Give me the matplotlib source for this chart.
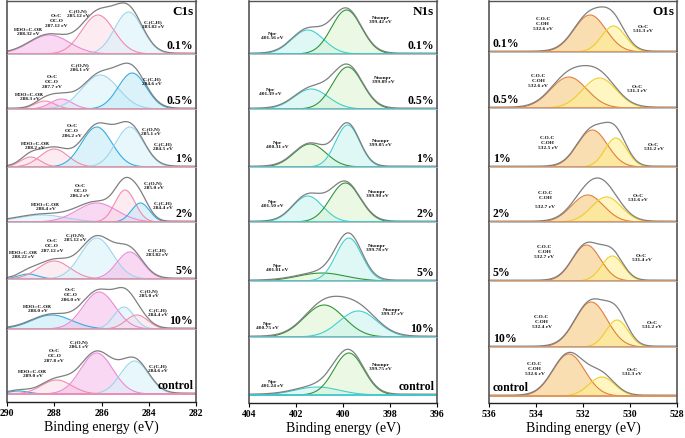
import numpy as np
import matplotlib.pyplot as plt

plt.rcParams['font.family'] = ['Liberation Serif', 'DejaVu Serif']
plt.rcParams['font.weight'] = 'bold'

#%% data (peak fits: centre eV, height a.u., fwhm eV)
samples = ['0.1%', '0.5%', '1%', '2%', '5%', '10%', 'control']

c1s_center = [[288.2, 286.15, 284.85],
              [288.4, 287.7, 286.05, 284.7],
              [289.0, 288.0, 286.2, 284.8],
              [288.5, 286.2, 285.0, 284.35],
              [289.1, 288.0, 286.2, 284.8],
              [288.1, 286.1, 285.05, 284.5],
              [289.5, 287.9, 286.2, 284.6]]
c1s_height = [[19, 39, 42],
              [8, 10, 34, 36],
              [10, 18, 40, 40],
              [7, 19, 32, 19],
              [5, 18, 41, 27],
              [14, 37, 22, 14],
              [3, 14, 41, 33]]
c1s_fwhm = [[2.0, 1.6, 1.4],
            [1.0, 1.1, 1.8, 1.4],
            [1.0, 1.4, 1.5, 1.4],
            [2.4, 2.0, 1.0, 0.9],
            [1.0, 1.6, 1.6, 1.3],
            [2.0, 1.6, 1.0, 1.1],
            [1.0, 1.5, 1.6, 1.4]]
c1s_text = [['HOO=C-OR\n288.32 eV', 'O=C\nOC-O\n287.12 eV', 'C-(O,N)\n285.12 eV', 'C-(C,H)\n283.82 eV'],
            ['HOO=C-OR\n288.3 eV', 'O=C\nOC-O\n287.7 eV', 'C-(O,N)\n286.1 eV', 'C-(C,H)\n284.6 eV'],
            ['HOO=C-OR\n288.2 eV', 'O=C\nOC-O\n286.2 eV', 'C-(O,N)\n285.1 eV', 'C-(C,H)\n284.5 eV'],
            ['HOO=C-OR\n288.4 eV', 'O=C\nOC-O\n286.2 eV', 'C-(O,N)\n285.0 eV', 'C-(C,H)\n284.4 eV'],
            ['HOO=C-OR\n288.22 eV', 'O=C\nOC-O\n287.12 eV', 'C-(O,N)\n285.12 eV', 'C-(C,H)\n283.82 eV'],
            ['HOO=C-OR\n288.0 eV', 'O=C\nOC-O\n286.0 eV', 'C-(O,N)\n285.0 eV', 'C-(C,H)\n284.4 eV'],
            ['HOO=C-OR\n289.0 eV', 'O=C\nOC-O\n287.8 eV', 'C-(O,N)\n286.1 eV', 'C-(C,H)\n284.6 eV']]

n1s_center = [[401.5, 399.85], [401.35, 399.8], [401.4, 399.8], [401.5, 399.9],
              [400.9, 399.75], [400.8, 399.35], [401.1, 399.75]]
n1s_height = [[24, 44], [20, 42], [23, 42], [26, 39], [8, 43], [32, 26], [8, 42]]
n1s_fwhm = [[1.6, 1.5], [1.7, 1.5], [1.6, 1.2], [1.5, 1.5], [2.4, 1.3], [2.0, 1.9], [2.2, 1.5]]
n1s_text = [['Npr\n401.56 eV', 'Nnonpr\n399.42 eV'],
            ['Npr\n401.39 eV', 'Nnonpr\n399.89 eV'],
            ['Npr\n400.31 eV', 'Nnonpr\n399.05 eV'],
            ['Npr\n401.50 eV', 'Nnonpr\n399.90 eV'],
            ['Npr\n401.81 eV', 'Nnonpr\n399.78 eV'],
            ['Npr\n400.75 eV', 'Nnonpr\n399.37 eV'],
            ['Npr\n401.24 eV', 'Nnonpr\n399.75 eV']]

o1s_center = [[531.7, 530.7], [532.6, 531.3], [531.6, 530.6], [531.8, 531.0],
              [531.85, 530.75], [531.65, 530.55], [532.6, 531.2]]
o1s_height = [[37, 26], [31, 30], [37, 29], [27, 25], [36, 25], [45, 27], [42, 19]]
o1s_fwhm = [[1.6, 1.2], [1.8, 1.7], [1.5, 1.1], [1.6, 1.5], [1.4, 1.1], [1.6, 1.1], [1.6, 1.3]]
o1s_text = [['C-O-C\nC-OH\n532.6 eV', 'O=C\n531.3 eV'],
            ['C-O-C\nC-OH\n532.6 eV', 'O=C\n531.3 eV'],
            ['C-O-C\nC-OH\n532.5 eV', 'O=C\n531.2 eV'],
            ['C-O-C\nC-OH\n\n532.7 eV', 'O=C\n531.6 eV'],
            ['C-O-C\nC-OH\n532.7 eV', 'O=C\n531.4 eV'],
            ['C-O-C\nC-OH\n532.4 eV', 'O=C\n531.2 eV'],
            ['C-O-C\nC-OH\n532.6 eV', 'O=C\n531.3 eV']]

#%% styles
col = {'pink': ('#f28bab', '#fcdbe8'), 'mag': ('#e98ad6', '#f3b8e8'),
       'lblue': ('#9dd6ea', '#d6f2fa'), 'blue': ('#35ace0', '#bfe9f7'),
       'cyan': ('#3fcfcf', '#c8f4ee'), 'green': ('#2e9636', '#dcf3cf'),
       'orange': ('#e07f3a', '#f5c474'), 'yellow': ('#efcd2a', '#fff08e')}

c1s_style = [['mag', 'pink', 'lblue'], ['pink', 'mag', 'lblue', 'blue'],
             ['pink', 'pink', 'blue', 'lblue'], ['lblue', 'mag', 'pink', 'blue'],
             ['blue', 'pink', 'lblue', 'mag'], ['blue', 'mag', 'lblue', 'pink'],
             ['blue', 'pink', 'mag', 'lblue']]
n1s_style = [['cyan', 'green'], ['cyan', 'green'], ['green', 'cyan'], ['cyan', 'green'],
             ['green', 'cyan'], ['green', 'cyan'], ['cyan', 'green']]
o1s_style = [['orange', 'yellow']] * 7

# label positions (eV, height above baseline)
c1s_pos = [[(289.1, 23), (287.9, 34), (287.0, 41), (283.8, 30)],
           [(289.05, 13), (288.1, 28), (286.9, 42), (283.85, 28)],
           [(288.8, 22), (287.25, 37), (283.9, 36), (283.4, 21)],
           [(288.35, 16), (286.9, 32), (283.8, 37), (283.4, 17)],
           [(289.3, 25), (288.1, 34), (287.1, 42), (283.65, 27)],
           [(288.7, 21), (287.3, 35), (284.0, 36), (283.6, 17)],
           [(288.9, 21), (288.0, 39), (286.95, 50), (283.6, 26)]]
n1s_pos = [[(403.0, 19), (398.4, 35)], [(403.1, 18), (398.3, 30)],
           [(402.8, 23), (398.4, 25)], [(403.0, 19), (398.55, 29)],
           [(402.8, 14), (398.55, 34)], [(403.2, 12), (397.9, 26)],
           [(403.0, 12), (398.4, 29)]]
o1s_pos = [[(533.7, 29), (529.45, 24)], [(533.9, 28), (529.7, 20)],
           [(533.5, 25), (529.0, 21)], [(533.6, 23), (529.65, 25)],
           [(533.65, 30), (529.5, 24)], [(533.75, 26), (529.05, 23)],
           [(534.05, 28), (529.9, 25)]]

W, H = 685, 439
columns = [
    dict(name='C1s', c=c1s_center, h=c1s_height, w=c1s_fwhm, txt=c1s_text, sty=c1s_style, pos=c1s_pos,
         left=7, right=196, xr=(290, 282), ticks=[290, 288, 286, 284, 282],
         bounds=[2, 55, 110, 168, 223, 280, 330, 403], base=395, line='#f08cb0', lab_right=True),
    dict(name='N1s', c=n1s_center, h=n1s_height, w=n1s_fwhm, txt=n1s_text, sty=n1s_style, pos=n1s_pos,
         left=249, right=437, xr=(404, 396), ticks=[404, 402, 400, 398, 396],
         bounds=[2, 55, 110, 168, 223, 282, 338, 404], base=396, line='#3fc8d0', lab_right=True),
    dict(name='O1s', c=o1s_center, h=o1s_height, w=o1s_fwhm, txt=o1s_text, sty=o1s_style, pos=o1s_pos,
         left=489, right=677, xr=(536, 528), ticks=[536, 534, 532, 530, 528],
         bounds=[2, 53, 109, 168, 223, 282, 348, 404], base=397, line='#e0905a', lab_right=False),
]


def gauss(x, c, h, w):
    return h * np.exp(-4 * np.log(2) * (x - c) ** 2 / w ** 2)


fig = plt.figure(figsize=(W / 100, H / 100), dpi=100)

for cd in columns:
    x = np.linspace(cd['xr'][1], cd['xr'][0], 500)
    b = cd['bounds']
    for i, s in enumerate(samples):
        top, bot = b[i], b[i + 1]
        last = (i == len(samples) - 1)
        ax = fig.add_axes([cd['left'] / W, 1 - bot / H, (cd['right'] - cd['left']) / W, (bot - top) / H])
        if last:
            ax.set_ylim(-(bot - cd['base']), cd['base'] - top)
        else:
            ax.set_ylim(0, bot - top)
        ax.set_xlim(cd['xr'])

        total = np.zeros_like(x)
        curves = []
        for c, h, w, st in zip(cd['c'][i], cd['h'][i], cd['w'][i], cd['sty'][i]):
            g = gauss(x, c, h, w)
            total += g
            curves.append((g, st))
        for g, st in curves:
            ax.fill_between(x, 0, g, color=col[st][1], alpha=0.55, lw=0)
        for g, st in curves:
            ax.plot(x, g, color=col[st][0], lw=0.8)
        ax.plot(x, total + 0.8, color='#7f7f7f', lw=0.9)
        ax.axhline(0, color=cd['line'], lw=1.3)

        # peak labels
        for t, (px, py) in zip(cd['txt'][i], cd['pos'][i]):
            ax.text(px, py, t, fontsize=3.9, ha='center', va='center', linespacing=1.3, color='#111111')

        # sample label
        if cd['lab_right']:
            ax.text(0.985, 3, s, transform=ax.get_yaxis_transform(),
                    ha='right', va='bottom', fontsize=8.5)
        else:
            ax.text(0.02, 3, s, transform=ax.get_yaxis_transform(), ha='left', va='bottom', fontsize=8.5)
        if i == 0:
            ax.text(0.985, 0.93, cd['name'], transform=ax.transAxes, ha='right', va='top', fontsize=9.5)

        ax.set_yticks([])
        for side in ['left', 'right']:
            ax.spines[side].set_color('#555555')
            ax.spines[side].set_linewidth(1.2)
        ax.spines['top'].set_color('#555555' if i == 0 else '#b0b0b0')
        ax.spines['top'].set_linewidth(1.0 if i == 0 else 0.6)
        if last:
            ax.spines['bottom'].set_color('#222222')
            ax.spines['bottom'].set_linewidth(1.0)
            ax.set_xticks(cd['ticks'])
            ax.tick_params(axis='x', direction='out', length=3, width=0.8, labelsize=7, pad=1)
            ax.set_xlabel('Binding energy (eV)', fontsize=10, labelpad=2)
        else:
            ax.spines['bottom'].set_color(cd['line'])
            ax.set_xticks([])

fig.savefig('out.png', dpi=100)
